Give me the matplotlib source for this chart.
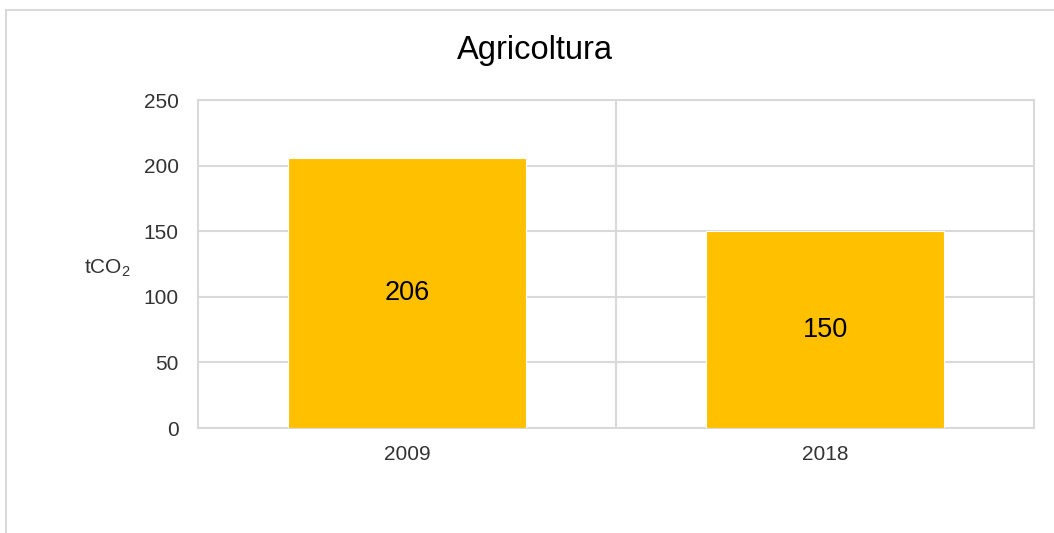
import matplotlib
matplotlib.use("Agg")
from matplotlib import pyplot as plt
from matplotlib.lines import Line2D

plt.rcParams['font.family'] = ['Liberation Sans', 'DejaVu Sans']
plt.rcParams['mathtext.default'] = 'regular'

years = ['2009', '2018']
values = [206, 150]
yticks = [0, 50, 100, 150, 200, 250]

W, H = 1054, 533
grid_col = '#d9d9d9'
text_col = '#333333'

fig = plt.figure(figsize=(W / 100, H / 100), dpi=100)

# outer chart frame (only top and left edge visible in the crop)
fig.add_artist(Line2D([6 / W, 1.0], [1 - 10 / H, 1 - 10 / H], color=grid_col, lw=1.5))
fig.add_artist(Line2D([6 / W, 6 / W], [0, 1 - 10 / H], color=grid_col, lw=1.5))

ax = fig.add_axes([198 / W, 1 - 428 / H, 836 / W, 328 / H])
x = range(len(years))
bars = ax.bar(x, values, width=0.567, color='#FFC000', edgecolor='white', linewidth=0.8, zorder=3)
ax.bar_label(bars, labels=[str(v) for v in values], label_type='center', fontsize=19.5, color='black')

ax.set_xlim(-0.5, 1.5)
ax.set_ylim(0, 250)
ax.set_yticks(yticks)
ax.set_xticks(list(x))
ax.set_xticklabels(years)
ax.set_xticks([0.5], minor=True)
ax.tick_params(axis='both', which='both', length=0, labelsize=15, colors=text_col)
ax.tick_params(axis='y', pad=14)
ax.tick_params(axis='x', pad=12)
ax.grid(axis='y', color=grid_col, lw=1.5, zorder=0)
ax.grid(axis='x', which='minor', color=grid_col, lw=1.5, zorder=0)
for s in ax.spines.values():
    s.set_color(grid_col)
    s.set_linewidth(1.5)

fig.text(107 / W, 1 - 268 / H, 'tCO$_2$', fontsize=15, color=text_col, ha='center', va='center')
fig.text(535 / W, 1 - 51 / H, 'Agricoltura', fontsize=23.5, color='black', ha='center', va='center')

fig.savefig('out.png', dpi=100, facecolor='white')
